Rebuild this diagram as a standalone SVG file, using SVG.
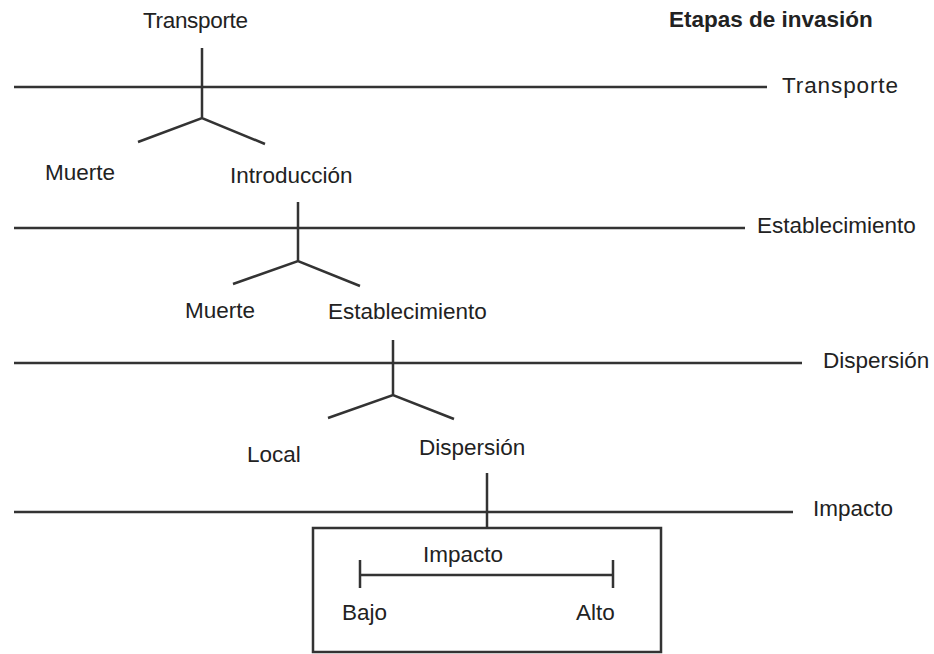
<svg xmlns="http://www.w3.org/2000/svg" width="934" height="654" viewBox="0 0 934 654">
<style>
  text { font-family: "Liberation Sans", Arial, sans-serif; font-size: 22.5px; fill: #222; }
  .title { font-weight: bold; }
  .ln { stroke: #333; stroke-width: 2.5; fill: none; stroke-linecap: butt; }
</style>
<rect width="934" height="654" fill="#fff"/>
<g id="connectors">
  <line class="ln" x1="14" y1="87" x2="767" y2="87"/>
  <line class="ln" x1="14" y1="228" x2="745" y2="228"/>
  <line class="ln" x1="14" y1="363" x2="802" y2="363"/>
  <line class="ln" x1="14" y1="512" x2="793" y2="512"/>
  <path class="ln" d="M202 48 V118 M138 142 L202 118 L265 144"/>
  <path class="ln" d="M298 202 V261 M233 284 L298 261 L360 286"/>
  <path class="ln" d="M393 340 V395 M328 418 L393 395 L454 419"/>
  <path class="ln" d="M487 473 V528"/>
</g>
<g id="title"><text class="title" x="669" y="27">Etapas de invasión</text></g>
<g id="stage-labels">
  <text x="782" y="93" textLength="116">Transporte</text>
  <text x="757" y="233">Establecimiento</text>
  <text x="823" y="368">Dispersión</text>
  <text x="813" y="516">Impacto</text>
</g>
<g id="node-transporte"><text x="143" y="28" textLength="105">Transporte</text></g>
<g id="node-muerte1"><text x="45" y="180">Muerte</text></g>
<g id="node-introduccion"><text x="230" y="183">Introducción</text></g>
<g id="node-muerte2"><text x="185" y="318">Muerte</text></g>
<g id="node-establecimiento"><text x="328" y="319">Establecimiento</text></g>
<g id="node-local"><text x="247" y="462">Local</text></g>
<g id="node-dispersion"><text x="419" y="455">Dispersión</text></g>
<g id="node-impacto">
  <rect class="ln" x="313" y="528" width="348" height="124"/>
  <text x="423" y="562">Impacto</text>
  <path class="ln" d="M360 575 H613 M360 560 V588 M613 560 V588"/>
  <text x="342" y="620">Bajo</text>
  <text x="576" y="620">Alto</text>
</g>
</svg>
